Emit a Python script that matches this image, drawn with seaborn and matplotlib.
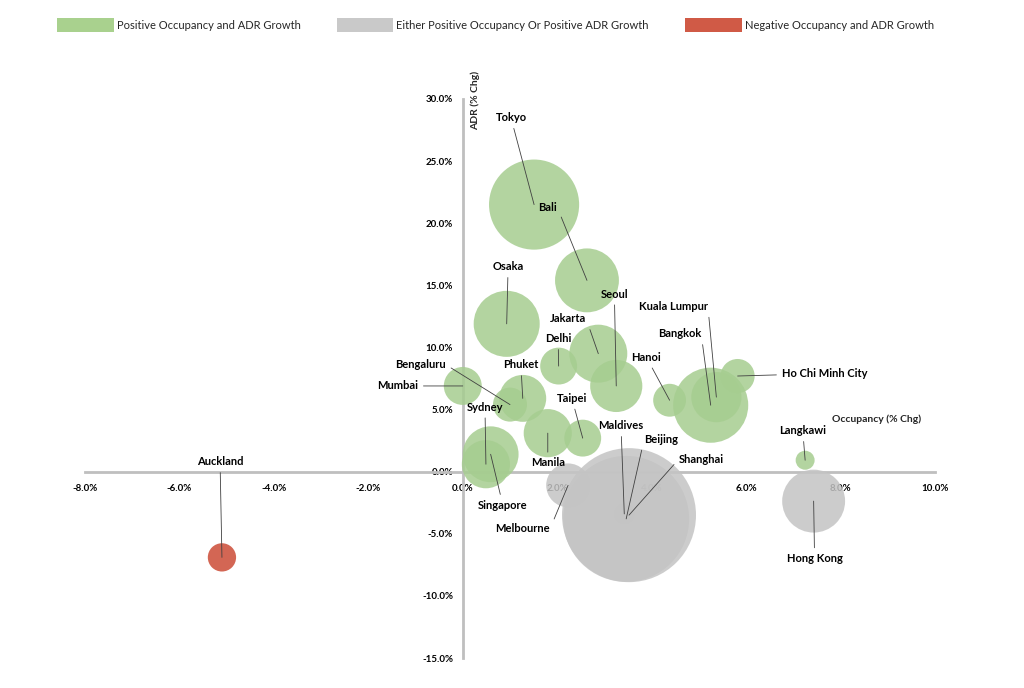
import matplotlib
matplotlib.use("Agg")
import matplotlib.pyplot as plt
import seaborn as sns
import pandas as pd
from matplotlib.patches import Patch

# ---------------- data ----------------
cities = ["Tokyo", "Bali", "Osaka", "Seoul", "Jakarta", "Delhi", "Mumbai", "Bengaluru",
          "Phuket", "Singapore", "Sydney", "Manila", "Taipei", "Hanoi", "Bangkok",
          "Kuala Lumpur", "Ho Chi Minh City", "Langkawi", "Hong Kong", "Beijing",
          "Shanghai", "Maldives", "Melbourne", "Auckland"]
occupancy_chg = [1.51, 2.63, 0.93, 3.25, 2.87, 2.03, 0.00, 1.00,
                 1.27, 0.59, 0.49, 1.80, 2.54, 4.38, 5.25,
                 5.37, 5.82, 7.25, 7.43, 3.46,
                 3.52, 3.42, 2.23, -5.10]
adr_chg = [21.5, 15.4, 11.9, 6.9, 9.5, 8.5, 6.9, 5.4,
           5.9, 1.4, 0.6, 3.1, 2.7, 5.75, 5.35,
           6.0, 7.7, 0.92, -2.37, -3.8,
           -3.5, -3.4, -1.1, -6.9]
bubble_size = [20.3, 10.2, 10.9, 6.8, 8.4, 3.4, 3.6, 2.9,
               5.5, 7.8, 5.8, 5.8, 3.4, 2.7, 14.1,
               6.3, 2.9, 0.9, 9.9, 39.7,
               44.9, 1.0, 4.8, 2.0]
category = ["Positive Occupancy and ADR Growth"] * 18 + \
           ["Either Positive Occupancy Or Positive ADR Growth"] * 5 + \
           ["Negative Occupancy and ADR Growth"]
categories = ["Positive Occupancy and ADR Growth",
              "Either Positive Occupancy Or Positive ADR Growth",
              "Negative Occupancy and ADR Growth"]
x_ticks = [-8, -6, -4, -2, 0, 2, 4, 6, 8, 10]
y_ticks = [-15, -10, -5, 0, 5, 10, 15, 20, 25, 30]

# ---------------- layout / style ----------------
colors = {categories[0]: "#A6CD90", categories[1]: "#C4C4C4", categories[2]: "#CC4B36"}
legend_colors = {categories[0]: "#A9D18E", categories[1]: "#C9C9C9", categories[2]: "#D05A46"}
# label placement (data coords) and leader start side
label_pos = {
    "Tokyo": (1.02, 28.5, None), "Bali": (1.80, 21.3, (1, 0.5)), "Osaka": (0.96, 16.5, None),
    "Seoul": (3.21, 14.3, None), "Jakarta": (2.23, 12.3, (1, 0.5)), "Delhi": (2.02, 10.7, None),
    "Mumbai": (-1.38, 6.9, None), "Bengaluru": (-0.89, 8.6, (1, 0.5)), "Phuket": (1.23, 8.6, None),
    "Singapore": (0.85, -2.7, None), "Sydney": (0.47, 5.2, None), "Manila": (1.80, 0.7, None),
    "Taipei": (2.31, 5.9, None), "Hanoi": (3.89, 9.2, None), "Bangkok": (4.59, 11.1, (1, 0.5)),
    "Kuala Lumpur": (4.46, 13.3, (1, 0.5)), "Ho Chi Minh City": (7.66, 7.9, None),
    "Langkawi": (7.20, 3.3, None), "Hong Kong": (7.45, -7.0, None), "Beijing": (4.20, 2.6, (0, 0.5)),
    "Shanghai": (5.05, 1.0, (0, 0.5)), "Maldives": (3.35, 3.7, None),
    "Melbourne": (1.27, -4.6, (1, 0.5)), "Auckland": (-5.14, 0.8, None),
}

df = pd.DataFrame({"city": cities, "occ": occupancy_chg, "adr": adr_chg,
                   "size": bubble_size, "cat": category})

sns.set_theme(style="white")
plt.rcParams["font.family"] = ["Lato", "DejaVu Sans"]

fig = plt.figure(figsize=(10.24, 6.88), dpi=100)
ax = fig.add_axes([85 / 1024, 30 / 688, 850 / 1024, 559 / 688])

vmax = max(bubble_size)
smax = 207.36 * vmax
sns.scatterplot(data=df, x="occ", y="adr", size="size", sizes=(0, smax), size_norm=(0, vmax),
                hue="cat", hue_order=categories, palette=colors, alpha=0.85, linewidth=0,
                legend=False, ax=ax, zorder=2)

ax.set_xlim(-8, 10)
ax.set_ylim(-15, 30)
for s in ["top", "right"]:
    ax.spines[s].set_visible(False)
for s in ["left", "bottom"]:
    ax.spines[s].set_position(("data", 0))
    ax.spines[s].set_color("#BFBFBF")
    ax.spines[s].set_linewidth(2.0)
    ax.spines[s].set_zorder(1)
ax.set_xticks(x_ticks)
ax.set_yticks(y_ticks)
ax.set_xticklabels([f"{v:.1f}%" for v in x_ticks])
ax.set_yticklabels([f"{v:.1f}%" for v in y_ticks])
ax.tick_params(axis="both", length=0, labelsize=7, colors="black")
ax.tick_params(axis="x", pad=9)
ax.tick_params(axis="y", pad=7)
for lab in ax.get_xticklabels() + ax.get_yticklabels():
    lab.set_fontweight("bold")
ax.set_xlabel("")
ax.set_ylabel("")
ax.grid(False)

ax.text((475 - 85) / 850, (658 - 100) / 559, "ADR (% Chg)", transform=ax.transAxes,
        rotation=90, ha="center", va="center", fontsize=7.5, fontweight="bold")
ax.text((877 - 85) / 850, (658 - 419) / 559, "Occupancy (% Chg)", transform=ax.transAxes,
        ha="center", va="center", fontsize=7.5, fontweight="bold")

for c, x, y in zip(cities, occupancy_chg, adr_chg):
    lx, ly, rp = label_pos[c]
    ap = dict(arrowstyle="-", color="#404040", lw=0.6, shrinkA=1.5, shrinkB=0)
    if rp is not None:
        ap["relpos"] = rp
    ax.annotate(c, xy=(x, y), xytext=(lx, ly), ha="center", va="center",
                fontsize=8, fontweight="bold", color="black", arrowprops=ap, zorder=5)

handles = [Patch(facecolor=legend_colors[k], edgecolor="none") for k in categories]
fig.legend(handles, categories, loc="upper left", bbox_to_anchor=(57 / 1024, 1 - 18 / 688),
           ncol=3, frameon=False, fontsize=8, handlelength=5.1, handleheight=1.6,
           handletextpad=0.27, columnspacing=3.25, borderpad=0, borderaxespad=0)

fig.savefig("out.png", dpi=100)
